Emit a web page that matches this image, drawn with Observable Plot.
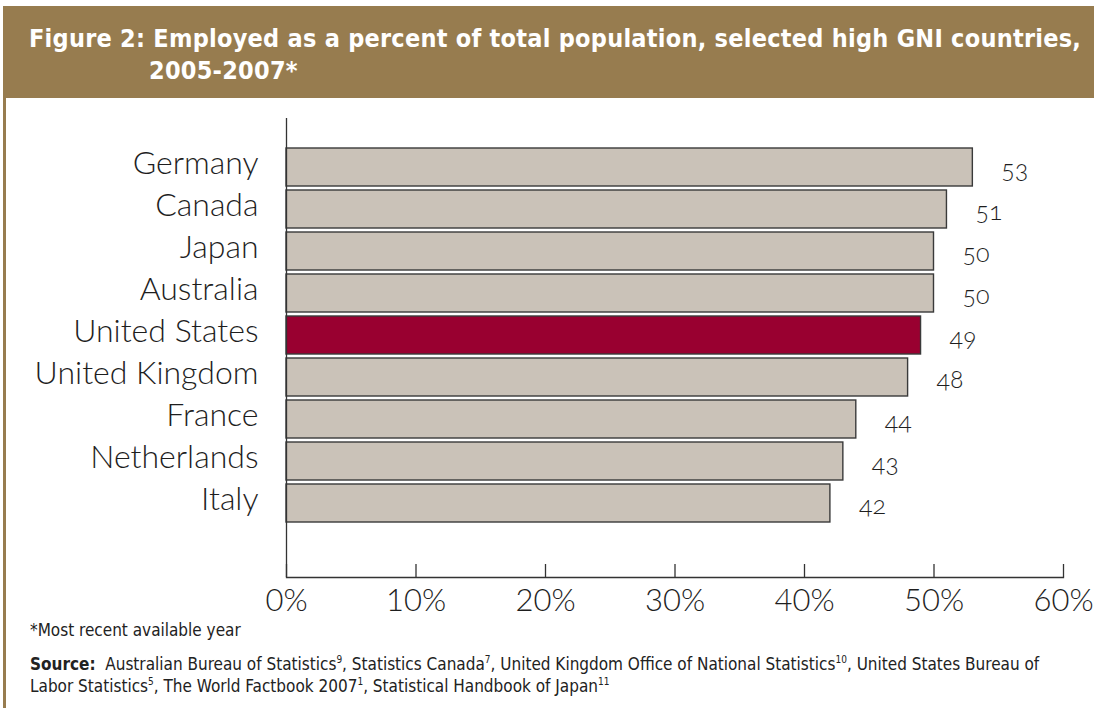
<!DOCTYPE html>
<html>
<head>
<meta charset="utf-8">
<script src="https://cdn.jsdelivr.net/npm/d3@7"></script>
<script src="https://cdn.jsdelivr.net/npm/@observablehq/plot@0.6"></script>
<style>
  body { margin: 0; width: 1094px; height: 708px; overflow: hidden; background: #fff; position: relative; }
  #band { position: absolute; left: 3px; top: 6px; width: 1091px; height: 92px; background: #977C4F; }
  #rail { position: absolute; left: 3px; top: 98px; width: 3px; height: 610px; background: #977C4F; }
  .title { position: absolute; color: #fff; font-family: "Liberation Sans Narrow", "DejaVu Sans Condensed", sans-serif; font-weight: bold; font-size: 25px; white-space: nowrap; letter-spacing: 0.25px; }
  #chart { position: absolute; left: 0; top: 100px; }
  .foot { position: absolute; left: 30px; font-family: "Liberation Sans Narrow", "DejaVu Sans Condensed", sans-serif; font-size: 17px; color: #222; white-space: nowrap; }
  .foot sup { font-size: 10px; }
</style>
</head>
<body>
<div id="band"></div>
<div id="rail"></div>
<div class="title" style="left:29px; top:24px;">Figure 2: Employed as a percent of total population, selected high GNI countries,</div>
<div class="title" style="left:149px; top:56px;">2005-2007*</div>
<div id="chart"></div>
<div class="foot" style="top:620px;">*Most recent available year</div>
<div class="foot" style="top:654px;"><b>Source:</b>&nbsp; Australian Bureau of Statistics<sup>9</sup>, Statistics Canada<sup>7</sup>, United Kingdom Office of National Statistics<sup>10</sup>, United States Bureau of</div>
<div class="foot" style="top:676px;">Labor Statistics<sup>5</sup>, The World Factbook 2007<sup>1</sup>, Statistical Handbook of Japan<sup>11</sup></div>
<script>
const countries = ["Germany", "Canada", "Japan", "Australia", "United States", "United Kingdom", "France", "Netherlands", "Italy"];
const values = [53, 51, 50, 50, 49, 48, 44, 43, 42];
const highlight = "United States";
const xTicks = [0, 10, 20, 30, 40, 50, 60];

const data = countries.map((c, i) => ({country: c, value: values[i]}));
const font = "Lato, 'Open Sans', sans-serif";

const chart = Plot.plot({
  width: 1094,
  height: 520,
  marginLeft: 286,
  marginRight: 31,
  marginTop: 18,
  marginBottom: 43,
  style: {fontFamily: font, fontWeight: 300, color: "#1e1e1e", background: "transparent", fontVariantNumeric: "oldstyle-nums", overflow: "visible"},
  x: {domain: [0, 60], label: null},
  y: {domain: countries, range: [41.75, 428.5], padding: 0.1, label: null},
  marks: [
    Plot.barX(data, {
      x: "value", y: "country",
      fill: d => d.country === highlight ? "#990030" : "#CAC2B8",
      stroke: "#3a3a3a", strokeWidth: 1.4
    }),
    Plot.text(data, {
      x: "value", y: "country", text: d => String(d.value),
      dx: 42, dy: 2, textAnchor: "middle", fontSize: 25, fill: "#1e1e1e"
    }),
    Plot.ruleX([0], {stroke: "#333", strokeWidth: 1.3}),
    Plot.frame({anchor: "bottom", stroke: "#333", strokeWidth: 1.3}),
    Plot.axisX({ticks: xTicks, tickSize: -13, tickFormat: () => "", stroke: "#333", strokeWidth: 1.3, label: null}),
    Plot.axisX({ticks: xTicks, tickSize: 0, tickPadding: 11, tickFormat: d => d + "%", fontSize: 31, label: null}),
    Plot.axisY({tickSize: 0, tickPadding: 28, fontSize: 32, dy: -4, label: null})
  ]
});
document.getElementById("chart").appendChild(chart);
</script>
</body>
</html>
